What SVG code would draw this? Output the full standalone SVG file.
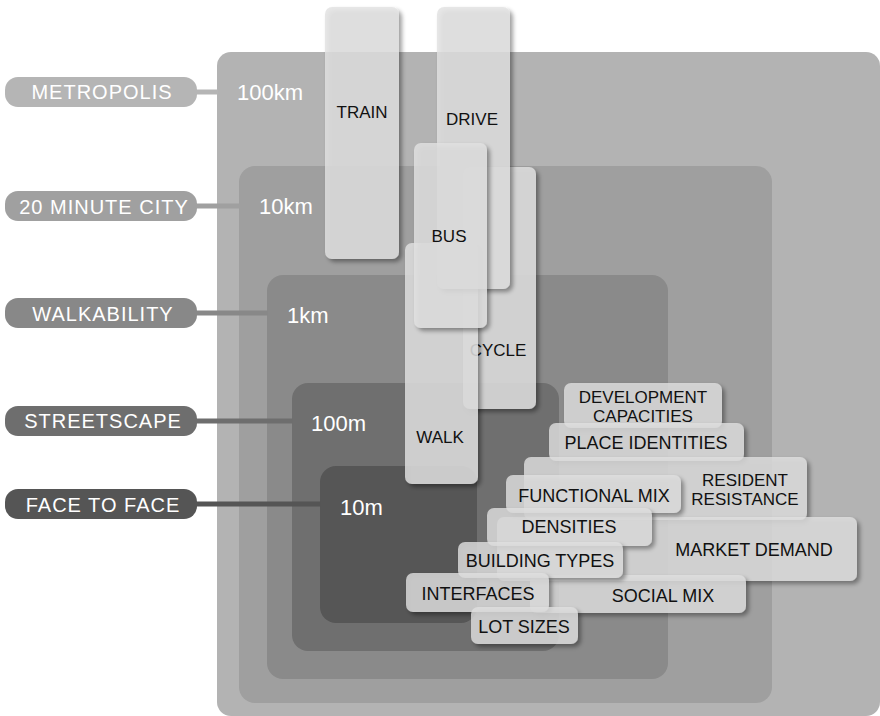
<svg xmlns="http://www.w3.org/2000/svg" width="880" height="716" viewBox="0 0 880 716">
<defs>
<filter id="sh" x="-20%" y="-20%" width="150%" height="150%">
<feDropShadow dx="3" dy="3" stdDeviation="2" flood-color="#000" flood-opacity="0.45"/>
</filter>
<style>
.pilltxt{font-family:"Liberation Sans",Arial,sans-serif;font-size:20px;fill:#fff;text-anchor:middle;letter-spacing:1px}
.scale{font-family:"Liberation Sans",Arial,sans-serif;font-size:22px;fill:#fff}
.mode{font-family:"Liberation Sans",Arial,sans-serif;font-size:17px;fill:#111;text-anchor:middle}
.lbl{font-family:"Liberation Sans",Arial,sans-serif;font-size:18px;fill:#111;text-anchor:middle}
.lbl2{font-family:"Liberation Sans",Arial,sans-serif;font-size:17px;fill:#111;text-anchor:middle}
.card{fill:#e2e2e2;fill-opacity:0.82;filter:url(#sh)}
.tag{fill:#e0e0e0;fill-opacity:0.8;filter:url(#sh)}
.conn{stroke-width:5;fill:none}
</style>
</defs>
<rect width="880" height="716" fill="#fff"/>

<g id="zones">
<rect id="zone-100km" x="217" y="52" width="663" height="664" rx="14" fill="#b3b3b3"/>
<rect id="zone-10km" x="239" y="166" width="533" height="537" rx="16" fill="#9f9f9f"/>
<rect id="zone-1km" x="267" y="275" width="401" height="404" rx="16" fill="#8a8a8a"/>
<rect id="zone-100m" x="292" y="383" width="267" height="268" rx="16" fill="#6f6f6f"/>
<rect id="zone-10m" x="320" y="466" width="157" height="157" rx="16" fill="#565656"/>
<text class="scale" x="237" y="100">100km</text>
<text class="scale" x="259" y="214">10km</text>
<text class="scale" x="287" y="323">1km</text>
<text class="scale" x="311" y="431">100m</text>
<text class="scale" x="340" y="515">10m</text>
</g>

<g id="connectors">
<line class="conn" x1="196" y1="92" x2="218" y2="92" stroke="#b5b5b5"/>
<line class="conn" x1="196" y1="206" x2="240" y2="206" stroke="#a0a0a0"/>
<line class="conn" x1="196" y1="313" x2="268" y2="313" stroke="#888888"/>
<line class="conn" x1="196" y1="421" x2="293" y2="421" stroke="#6e6e6e"/>
<line class="conn" x1="196" y1="504" x2="321" y2="504" stroke="#555555"/>
</g>

<g id="metropolis"><rect x="5" y="77" width="192" height="30" rx="13" fill="#b5b5b5"/><text class="pilltxt" x="102" y="99">METROPOLIS</text></g>
<g id="city20"><rect x="5" y="191" width="192" height="30" rx="13" fill="#a0a0a0"/><text class="pilltxt" x="104" y="214">20 MINUTE CITY</text></g>
<g id="walkability"><rect x="5" y="298" width="192" height="30" rx="13" fill="#888888"/><text class="pilltxt" x="103" y="321">WALKABILITY</text></g>
<g id="streetscape"><rect x="5" y="406" width="192" height="30" rx="13" fill="#6e6e6e"/><text class="pilltxt" x="103" y="428">STREETSCAPE</text></g>
<g id="facetoface"><rect x="5" y="489" width="192" height="30" rx="13" fill="#555555"/><text class="pilltxt" x="103" y="512">FACE TO FACE</text></g>

<g id="train"><rect class="card" x="325" y="7" width="74" height="252" rx="7"/><text class="mode" x="362" y="118">TRAIN</text></g>
<g id="cycle"><rect class="card" x="463" y="167" width="73" height="242" rx="7"/><text class="mode" x="498" y="356">CYCLE</text></g>
<g id="walk"><rect class="card" x="405" y="243" width="73" height="241" rx="7"/><text class="mode" x="440" y="443">WALK</text></g>
<g id="drive"><rect class="card" x="437" y="7" width="73" height="282" rx="7"/><text class="mode" x="472" y="125">DRIVE</text></g>
<g id="bus"><rect class="card" x="414" y="143" width="73" height="185" rx="7"/><text class="mode" x="449" y="242">BUS</text></g>

<g id="development"><rect class="tag" x="564" y="383" width="158" height="45" rx="7"/><text class="lbl2" x="643" y="403">DEVELOPMENT</text><text class="lbl2" x="643" y="422">CAPACITIES</text></g>
<g id="place"><rect class="tag" x="549" y="423" width="195" height="38" rx="7"/><text class="lbl" x="646" y="449">PLACE IDENTITIES</text></g>
<g id="resident"><rect class="tag" x="524" y="457" width="283" height="63" rx="7"/><text class="lbl2" x="745" y="486">RESIDENT</text><text class="lbl2" x="745" y="505">RESISTANCE</text></g>
<g id="market"><rect class="tag" x="497" y="517" width="360" height="64" rx="7"/><text class="lbl" x="754" y="556">MARKET DEMAND</text></g>
<g id="socialmix"><rect class="tag" x="530" y="575" width="216" height="38" rx="7"/><text class="lbl" x="663" y="602">SOCIAL MIX</text></g>
<g id="functionalmix"><rect class="tag" x="506" y="475" width="175" height="38" rx="7"/><text class="lbl" x="594" y="502">FUNCTIONAL MIX</text></g>
<g id="densities"><rect class="tag" x="487" y="508" width="165" height="38" rx="7"/><text class="lbl" x="569" y="533">DENSITIES</text></g>
<g id="buildingtypes"><rect class="tag" x="458" y="542" width="165" height="36" rx="7"/><text class="lbl" x="540" y="567">BUILDING TYPES</text></g>
<g id="interfaces"><rect class="tag" x="406" y="573" width="143" height="39" rx="7"/><text class="lbl" x="478" y="600">INTERFACES</text></g>
<g id="lotsizes"><rect class="tag" x="471" y="607" width="107" height="37" rx="7"/><text class="lbl" x="524" y="633">LOT SIZES</text></g>
</svg>
